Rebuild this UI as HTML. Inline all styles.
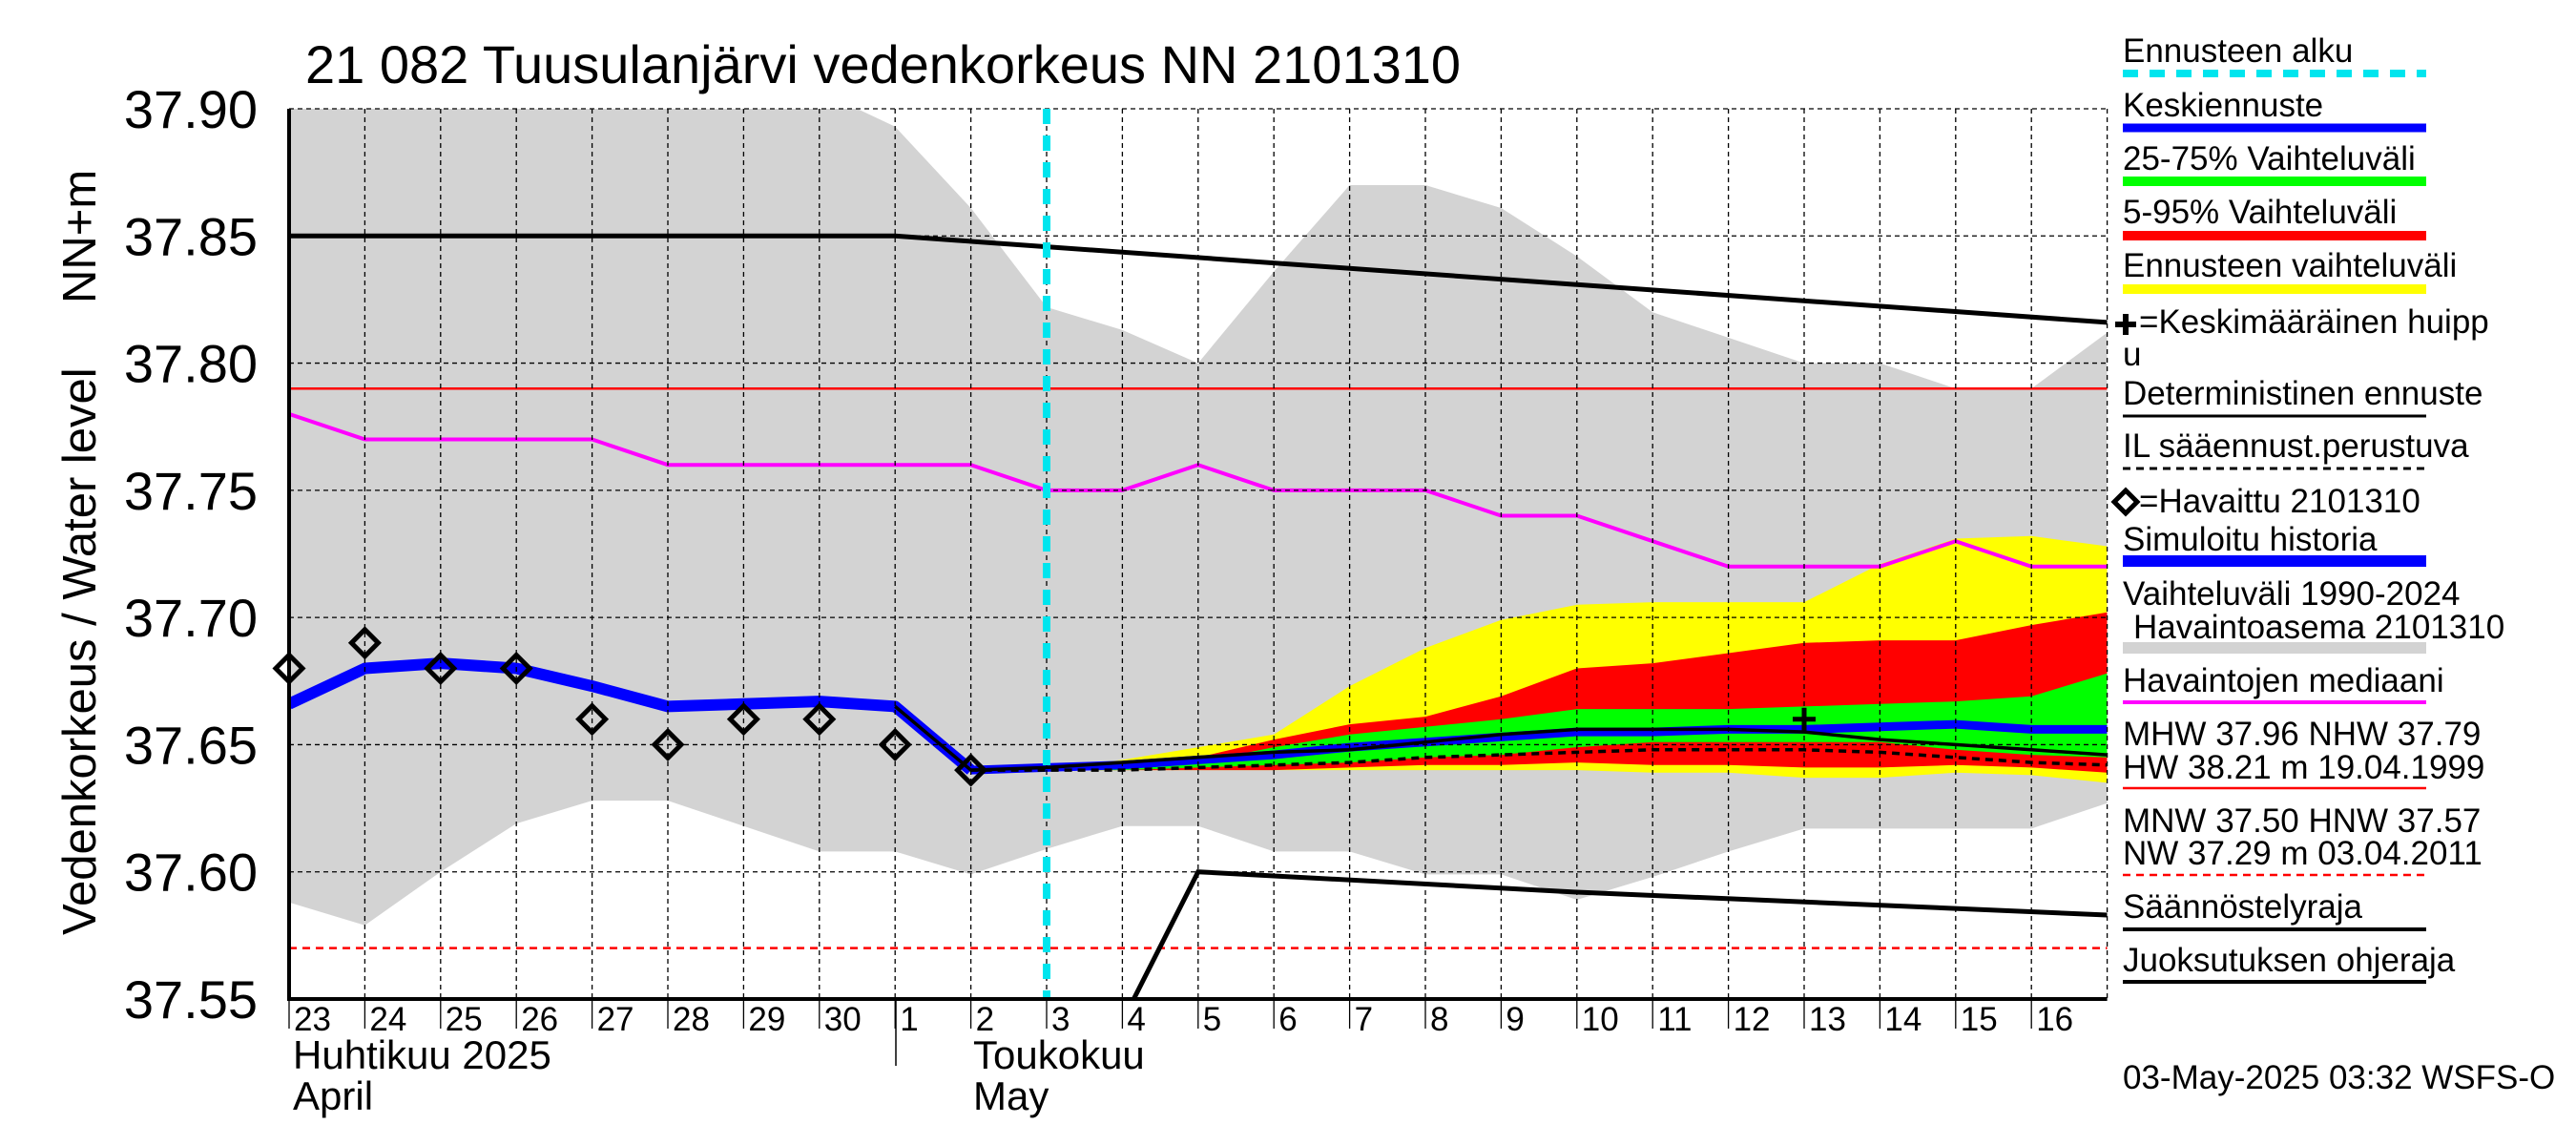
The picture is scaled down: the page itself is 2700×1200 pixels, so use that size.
<!DOCTYPE html>
<html><head><meta charset="utf-8"><style>
html,body{margin:0;padding:0;background:#fff;}
svg{display:block;font-family:"Liberation Sans",sans-serif;}
</style></head><body>
<svg id="chart" width="2700" height="1200" viewBox="0 0 2700 1200" xmlns="http://www.w3.org/2000/svg">
<rect width="2700" height="1200" fill="#fff"/>
<text x="320" y="87" font-size="56">21 082 Tuusulanjärvi vedenkorkeus NN 2101310</text>
<g id="plot"></g>
<text transform="translate(100,980) rotate(-90)" font-size="49">Vedenkorkeus / Water level</text>
<text transform="translate(100,318) rotate(-90)" font-size="49">NN+m</text>
<text x="307" y="1120" font-size="42">Huhtikuu  2025</text>
<text x="307" y="1163" font-size="42">April</text>
<text x="1020" y="1120" font-size="42">Toukokuu</text>
<text x="1020" y="1163" font-size="42">May</text>
<line x1="939" y1="1047" x2="939" y2="1117" stroke="#000" stroke-width="1.5"/>
<g id="legend" font-size="35">
 <text x="2225" y="65">Ennusteen alku</text>
 <line x1="2225" y1="77" x2="2543" y2="77" stroke="#00e5ee" stroke-width="8" stroke-dasharray="16,12"/>
 <text x="2225" y="122">Keskiennuste</text>
 <line x1="2225" y1="134" x2="2543" y2="134" stroke="#0000ff" stroke-width="9"/>
 <text x="2225" y="178">25-75% Vaihteluväli</text>
 <line x1="2225" y1="190" x2="2543" y2="190" stroke="#00ff00" stroke-width="10"/>
 <text x="2225" y="234">5-95% Vaihteluväli</text>
 <line x1="2225" y1="247" x2="2543" y2="247" stroke="#ff0000" stroke-width="10"/>
 <text x="2225" y="290">Ennusteen vaihteluväli</text>
 <line x1="2225" y1="303" x2="2543" y2="303" stroke="#ffff00" stroke-width="10"/>
 <path d="M2217,340 h22 M2228,329 v22" stroke="#000" stroke-width="6"/>
 <text x="2242" y="349">=Keskimääräinen huipp</text>
 <text x="2225" y="383">u</text>
 <text x="2225" y="424">Deterministinen ennuste</text>
 <line x1="2225" y1="436" x2="2543" y2="436" stroke="#000" stroke-width="3"/>
 <text x="2225" y="479">IL sääennust.perustuva</text>
 <line x1="2225" y1="491" x2="2543" y2="491" stroke="#000" stroke-width="3" stroke-dasharray="8,6"/>
 <path d="M2228,514 l12,12 l-12,12 l-12,-12 z" fill="none" stroke="#000" stroke-width="5"/>
 <text x="2242" y="537">=Havaittu 2101310</text>
 <text x="2225" y="577">Simuloitu historia</text>
 <line x1="2225" y1="588" x2="2543" y2="588" stroke="#0000ff" stroke-width="12"/>
 <text x="2225" y="634">Vaihteluväli 1990-2024</text>
 <text x="2236" y="669">Havaintoasema 2101310</text>
 <line x1="2225" y1="679" x2="2543" y2="679" stroke="#d3d3d3" stroke-width="12"/>
 <text x="2225" y="725">Havaintojen mediaani</text>
 <line x1="2225" y1="736" x2="2543" y2="736" stroke="#ff00ff" stroke-width="4"/>
 <text x="2225" y="781">MHW  37.96 NHW  37.79</text>
 <text x="2225" y="816">HW  38.21 m 19.04.1999</text>
 <line x1="2225" y1="826" x2="2543" y2="826" stroke="#ff0000" stroke-width="2.5"/>
 <text x="2225" y="872">MNW  37.50 HNW  37.57</text>
 <text x="2225" y="906">NW  37.29 m 03.04.2011</text>
 <line x1="2225" y1="917" x2="2543" y2="917" stroke="#ff0000" stroke-width="2.5" stroke-dasharray="8,6"/>
 <text x="2225" y="962">Säännöstelyraja</text>
 <line x1="2225" y1="974" x2="2543" y2="974" stroke="#000" stroke-width="4"/>
 <text x="2225" y="1018">Juoksutuksen ohjeraja</text>
 <line x1="2225" y1="1029" x2="2543" y2="1029" stroke="#000" stroke-width="4"/>
</g>
<text x="2225" y="1141" font-size="35">03-May-2025 03:32 WSFS-O</text>
</svg>
<script>
const dayLabels = ["23","24","25","26","27","28","29","30","1","2","3","4","5","6","7","8","9","10","11","12","13","14","15","16"];
const yTicks = [37.55,37.60,37.65,37.70,37.75,37.80,37.85,37.90];
const grayDays = [0,1,2,3,4,5,6,7,7.5,8,9,10,11,12,13,14,15,16,17,18,19,20,21,22,23,24];
const grayUpper = [37.92,37.92,37.92,37.92,37.92,37.92,37.92,37.92,37.90,37.893,37.861,37.822,37.813,37.80,37.836,37.87,37.87,37.861,37.842,37.82,37.81,37.80,37.80,37.79,37.79,37.812];
const grayLowerDays = [0,1,2,3,4,5,6,7,8,9,10,11,12,13,14,15,16,17,18,19,20,21,22,23,24];
const grayLower = [37.588,37.579,37.60,37.619,37.628,37.628,37.618,37.608,37.608,37.599,37.609,37.618,37.618,37.608,37.608,37.599,37.599,37.589,37.598,37.608,37.617,37.617,37.617,37.617,37.627];
const medianDays = [0,1,2,3,4,5,6,7,8,9,10,11,12,13,14,15,16,17,18,19,20,21,22,23,24];
const median = [37.78,37.77,37.77,37.77,37.77,37.76,37.76,37.76,37.76,37.76,37.75,37.75,37.76,37.75,37.75,37.75,37.74,37.74,37.73,37.72,37.72,37.72,37.73,37.72,37.72];
const upperLimitDays = [0,8,24];
const upperLimit = [37.85,37.85,37.816];
const lowerLimitDays = [11.15,12,17,24];
const lowerLimit = [37.55,37.60,37.592,37.583];
const nhw = 37.79;
const hnw = 37.57;
const obsDays = [0,1,2,3,4,5,6,7,8,9];
const observed = [37.68,37.69,37.68,37.68,37.66,37.65,37.66,37.66,37.65,37.64];
const simDays = [0,1,2,3,4,5,6,7,8,9];
const simulated = [37.666,37.68,37.682,37.68,37.673,37.665,37.666,37.667,37.665,37.64];
const fcDays = [9,10,11,12,13,14,15,16,17,18,19,20,21,22,23,24];
const yellowUp = [37.64,37.641,37.644,37.649,37.654,37.673,37.688,37.699,37.705,37.706,37.706,37.706,37.721,37.731,37.732,37.728];
const redUp = [37.64,37.641,37.642,37.645,37.652,37.658,37.661,37.669,37.680,37.682,37.686,37.690,37.691,37.691,37.697,37.702];
const greenUp = [37.64,37.641,37.641,37.643,37.649,37.654,37.657,37.660,37.664,37.664,37.664,37.665,37.666,37.667,37.669,37.678];
const meanFc = [37.64,37.641,37.642,37.644,37.646,37.649,37.651,37.653,37.655,37.655,37.656,37.656,37.657,37.658,37.656,37.656];
const greenLow = [37.64,37.640,37.640,37.641,37.642,37.643,37.645,37.646,37.649,37.651,37.651,37.651,37.651,37.648,37.646,37.645];
const redLow = [37.64,37.640,37.640,37.640,37.640,37.641,37.642,37.642,37.643,37.642,37.642,37.641,37.641,37.642,37.641,37.639];
const yellowLow = [37.64,37.640,37.640,37.640,37.640,37.640,37.640,37.640,37.640,37.639,37.639,37.637,37.637,37.639,37.638,37.635];
const detDays = [8,9,10,11,12,13,14,15,16,17,18,19,20,21,22,23,24];
const deterministic = [37.665,37.64,37.641,37.643,37.645,37.647,37.648,37.651,37.654,37.656,37.656,37.656,37.655,37.652,37.650,37.648,37.646];
const ilDays = [9,10,11,12,13,14,15,16,17,18,19,20,21,22,23,24];
const ilForecast = [37.64,37.640,37.640,37.641,37.642,37.643,37.645,37.646,37.647,37.648,37.648,37.648,37.647,37.645,37.643,37.642];
const peakDay = [20];
const peakValue = [37.66];
const forecastStartDay = 10;

const X0=303, DX=79.4, Y0=1047, YTOP=114, VMIN=37.55, VMAX=37.90;
const xs = d => X0 + d*DX;
const ys = v => Y0 - (v-VMIN)/(VMAX-VMIN)*(Y0-YTOP);
const NS="http://www.w3.org/2000/svg";
const plot=document.getElementById('plot');
function mk(tag,attrs,parent){const e=document.createElementNS(NS,tag);for(const k in attrs)e.setAttribute(k,attrs[k]);(parent||plot).appendChild(e);return e;}
function pts(ds,vs){return ds.map((d,i)=>xs(d).toFixed(1)+','+ys(vs[i]).toFixed(1)).join(' ');}
function band(ds,up,lo){return pts(ds,up)+' '+ds.slice().reverse().map((d,j)=>{const i=ds.length-1-j;return xs(d).toFixed(1)+','+ys(lo[i]).toFixed(1);}).join(' ');}

const clip=mk('clipPath',{id:'pc'});mk('rect',{x:X0,y:YTOP,width:24*DX,height:Y0-YTOP},clip);
const g=mk('g',{'clip-path':'url(#pc)'});
let up=grayDays.map((d,i)=>xs(d).toFixed(1)+','+ys(grayUpper[i]).toFixed(1)).join(' ');
let lo=grayLowerDays.slice().reverse().map((d,j)=>{const i=grayLowerDays.length-1-j;return xs(d).toFixed(1)+','+ys(grayLower[i]).toFixed(1);}).join(' ');
const gb=mk('polygon',{points:up+' '+lo,fill:'#d3d3d3'},g);


for(let i=0;i<=24;i++){const l=mk('line',{x1:xs(i),y1:YTOP,x2:xs(i),y2:Y0,stroke:'#000','stroke-width':1.3,'stroke-dasharray':'5,4'});

}
yTicks.forEach(v=>{const l=mk('line',{x1:X0,y1:ys(v),x2:xs(24),y2:ys(v),stroke:'#000','stroke-width':1.3,'stroke-dasharray':'5,4'});

});
const nl=mk('line',{x1:X0,y1:ys(nhw),x2:xs(24),y2:ys(nhw),stroke:'#ff0000','stroke-width':2.5},g);


const hl=mk('line',{x1:X0,y1:ys(hnw),x2:xs(24),y2:ys(hnw),stroke:'#ff0000','stroke-width':2.5,'stroke-dasharray':'8,6'},g);


const ul=mk('polyline',{points:pts(upperLimitDays,upperLimit),fill:'none',stroke:'#000','stroke-width':5},g);


const ll=mk('polyline',{points:pts(lowerLimitDays,lowerLimit),fill:'none',stroke:'#000','stroke-width':5},g);


const yb=mk('polygon',{points:band(fcDays,yellowUp,yellowLow),fill:'#ffff00'},g);


const rb=mk('polygon',{points:band(fcDays,redUp,redLow),fill:'#ff0000'},g);


const grb=mk('polygon',{points:band(fcDays,greenUp,greenLow),fill:'#00ff00'},g);


const md=mk('polyline',{points:pts(medianDays,median),fill:'none',stroke:'#ff00ff','stroke-width':4},g);


const sim=mk('polyline',{points:pts(simDays,simulated),fill:'none',stroke:'#0000ff','stroke-width':12,'stroke-linejoin':'round'},g);


const mf=mk('polyline',{points:pts(fcDays,meanFc),fill:'none',stroke:'#0000ff','stroke-width':9},g);


const dt=mk('polyline',{points:pts(detDays,deterministic),fill:'none',stroke:'#000','stroke-width':3.5},g);


const il=mk('polyline',{points:pts(ilDays,ilForecast),fill:'none',stroke:'#000','stroke-width':3.5,'stroke-dasharray':'8,6'},g);


peakDay.forEach((d,i)=>{const p=mk('path',{d:`M${xs(d)-12},${ys(peakValue[i])} h24 M${xs(d)},${ys(peakValue[i])-12} v24`,stroke:'#000','stroke-width':5});

});
obsDays.forEach((d,i)=>{const x=xs(d),y=ys(observed[i]);const p=mk('path',{d:`M${x},${y-14} l14,14 l-14,14 l-14,-14 z`,fill:'none',stroke:'#000','stroke-width':5});

});
const cy=mk('line',{x1:xs(forecastStartDay),y1:YTOP,x2:xs(forecastStartDay),y2:Y0,stroke:'#00e5ee','stroke-width':8,'stroke-dasharray':'16,12'});


const ax=mk('path',{d:`M${X0},${YTOP} V${Y0} H${xs(24)}`,fill:'none',stroke:'#000','stroke-width':4});


yTicks.forEach(v=>{const t=mk('text',{x:270,y:ys(v)+20,'text-anchor':'end','font-size':56});t.textContent=v.toFixed(2);

});
dayLabels.forEach((s,i)=>{const t=mk('text',{x:xs(i)+5,y:1080,'font-size':35});t.textContent=s;


mk('line',{x1:xs(i),y1:Y0,x2:xs(i),y2:1078,stroke:'#000','stroke-width':1.3});});
</script>
</body></html>
